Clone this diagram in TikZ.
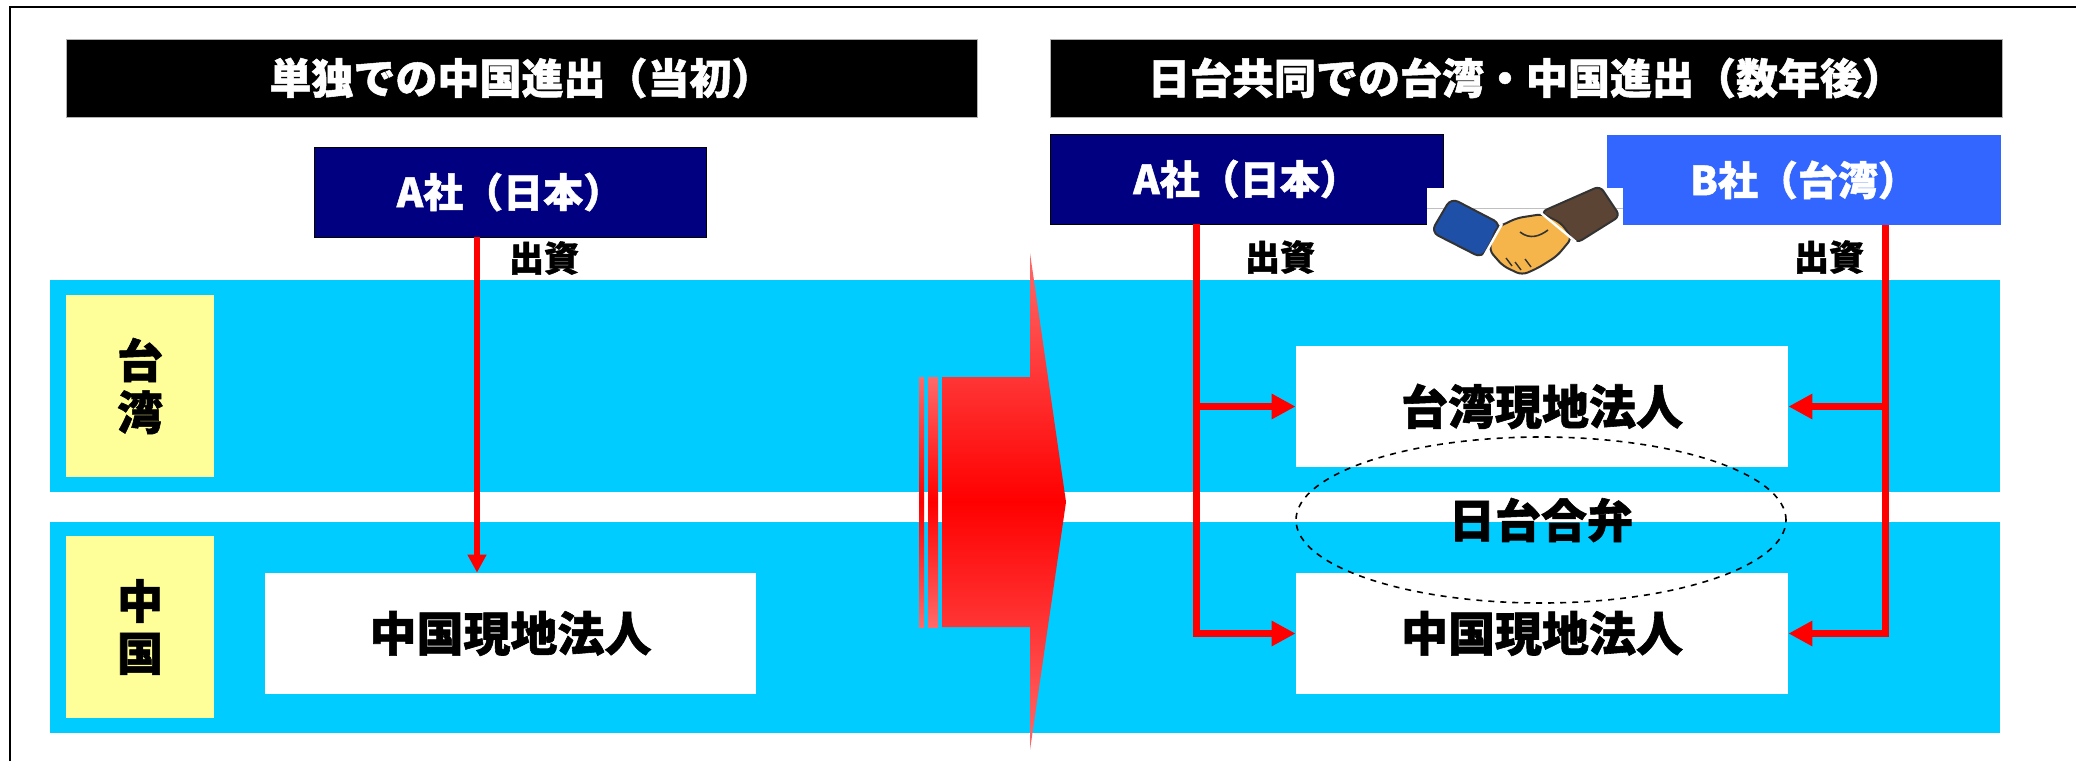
\documentclass[tikz,border=0pt]{standalone}
\usepackage{fontspec}
\setmainfont{Noto Sans CJK JP}[BoldFeatures={FakeBold=1.2}]
\usetikzlibrary{arrows.meta,calc,shapes.geometric}
\definecolor{navy}{HTML}{000080}
\definecolor{bblue}{HTML}{3366FF}
\definecolor{band}{HTML}{00CCFF}
\definecolor{pale}{HTML}{FFFF99}
\definecolor{arrowlight}{HTML}{FF6A6A}
\definecolor{sleeveblue}{HTML}{1F50A8}
\definecolor{sleevebrown}{HTML}{5C4434}
\definecolor{skin}{HTML}{F5B54A}
\tikzset{
  header/.style={fill=black, draw=gray!60, text=white, font=\bfseries\fontsize{21pt}{24pt}\selectfont, inner sep=0pt},
  company/.style={text=white, font=\bfseries\fontsize{20pt}{24pt}\selectfont, inner sep=0pt, minimum width=196pt, minimum height=45pt},
  bandbox/.style={fill=band, inner sep=0pt},
  region/.style={fill=pale, inner sep=0pt, minimum width=74pt, minimum height=91pt, align=center,
    font=\bfseries\fontsize{23pt}{26pt}\selectfont},
  entity/.style={fill=white, inner sep=0pt, minimum width=246pt, minimum height=60.5pt,
    font=\bfseries\fontsize{23.5pt}{26pt}\selectfont},
  invest/.style={font=\bfseries\fontsize{17.5pt}{20pt}\selectfont, inner sep=0pt},
  redline/.style={draw=red, line width=3.5pt, line join=miter, -{Triangle[length=12pt,width=12pt]}},
  redthin/.style={draw=red, line width=2.8pt, -{Triangle[length=9pt,width=9pt]}},
  bigarrow/.style={top color=arrowlight, bottom color=arrowlight, middle color=red}
}
\begin{document}
\begin{tikzpicture}[x=0.5pt,y=-0.5pt]
\useasboundingbox (0,0) rectangle (2076,761);
\fill[white] (0,0) rectangle (2076,761);
% outer frame (left and top edges)
\draw[line width=1.2pt] (10,761) -- (10,7) -- (2076,7);

% panel titles
\node[header, minimum width=455.5pt, minimum height=39pt] (h1) at (521.5,78) {単独での中国進出（当初）};
\node[header, minimum width=476pt, minimum height=39pt] (h2) at (1526,78) {日台共同での台湾・中国進出（数年後）};

% regional bands
\node[bandbox, minimum width=975pt, minimum height=106pt] (bandTW) at (1025,386) {};
\node[bandbox, minimum width=975pt, minimum height=105.5pt] (bandCN) at (1025,627.5) {};
\node[region] (rTW) at (140,386) {台\\湾};
\node[region] (rCN) at (140,627) {中\\国};

% left panel: single entry
\node[company, fill=navy, draw=black] (A1) at (510,192) {A社（日本）};
\node[entity, minimum width=245.5pt] (cn1) at (510.5,633.5) {中国現地法人};
\coordinate (ax) at (477,0);
\draw[redthin] (A1.south -| ax) -- (cn1.north -| ax);
\node[invest] (inv1) at (544,258) {出資};

% transition arrow
\shade[bigarrow] (942,377) -- (1030,377) -- (1030,253) -- (1066,502) -- (1030,750) -- (1030,627) -- (942,627) -- cycle;
\shade[bigarrow] (919,377) rectangle (924,627);
\shade[bigarrow] (928,377) rectangle (938,627);

% right panel: joint venture
\node[company, fill=navy, draw=black, minimum width=196.5pt] (A2) at (1246.5,179) {A社（日本）};
\node[company, fill=bblue, minimum width=197pt] (B2) at (1804,180) {B社（台湾）};
\node[entity] (tw2) at (1542,406.5) {台湾現地法人};
\node[entity] (cn2) at (1542,633.5) {中国現地法人};
\node[draw=black, dashed, line width=0.8pt, ellipse, minimum width=245pt, minimum height=83pt, inner sep=0pt,
  font=\bfseries\fontsize{23pt}{26pt}\selectfont] (jv) at (1541,520) {日台合弁};

\coordinate (lx) at (1196,0);
\coordinate (rx) at (1885,0);
\draw[redline] (A2.south -| lx) |- (cn2.west);
\draw[redline] (lx |- tw2.west) -- (tw2.west);
\draw[redline] (B2.south -| rx) |- (cn2.east);
\draw[redline] (rx |- tw2.east) -- (tw2.east);
\node[invest] (inv2) at (1280,257) {出資};
\node[invest] (inv3) at (1829,257) {出資};

% handshake
\fill[white] (1427,188) rectangle (1623,280);
\draw[gray!50, line width=0.4pt] (1427,208) -- (1623,208);
\filldraw[fill=sleeveblue, draw=black!80, line width=1pt, rounded corners=4pt]
  (1431,232) -- (1451,198) -- (1501,224) -- (1482,258) -- cycle;
\filldraw[fill=sleevebrown, draw=black!80, line width=1pt, rounded corners=3pt]
  (1541,212) -- (1600,186) -- (1620,216) -- (1577,243) -- cycle;
\filldraw[fill=skin, draw=black!80, line width=1pt, rounded corners=3pt]
  (1496,228) -- (1517,218) -- (1543,214) -- (1561,223) -- (1572,238) -- (1557,256)
  -- (1538,268) -- (1522,275) -- (1503,266) -- (1489,250) -- cycle;
\draw[black!80, line width=0.8pt] (1520,232) .. controls (1530,240) and (1540,236) .. (1548,230);
\draw[black!80, line width=0.7pt] (1506,258) -- (1512,266) (1515,262) -- (1521,270) (1525,259) -- (1531,267);
\draw[white, line width=1.2pt] (1484,256) -- (1502,224);
\draw[white, line width=1.2pt] (1541,213) -- (1576,242);
\end{tikzpicture}
\end{document}
